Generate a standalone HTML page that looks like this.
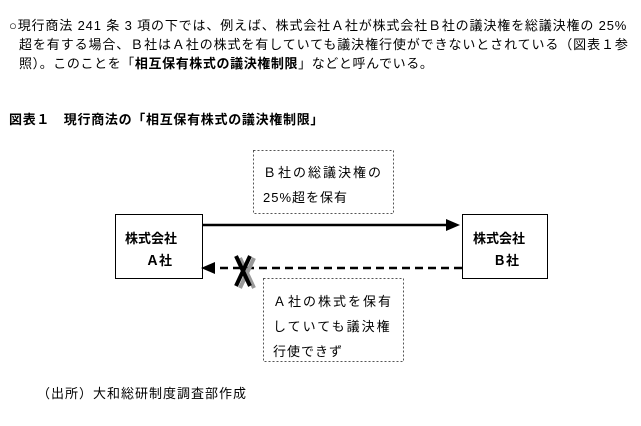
<!DOCTYPE html><html><head><meta charset="utf-8"><style>
body{margin:0;width:641px;height:426px;background:#fff;font-family:"Liberation Sans","Noto Sans CJK JP",sans-serif;color:#000;position:relative;overflow:hidden}
.a{position:absolute;white-space:nowrap;font-size:13px}
.b{font-weight:bold}
</style></head><body>
<div class="a" style="left:9px;top:15px;letter-spacing:0.85px">○現行商法 241 条 3 項の下では、例えば、株式会社Ａ社が株式会社Ｂ社の議決権を総議決権の 25%</div>
<div class="a" style="left:19px;top:34px;letter-spacing:0.9px">超を有する場合、Ｂ社はＡ社の株式を有していても議決権行使ができないとされている（図表１参</div>
<div class="a" style="left:19px;top:53px;letter-spacing:0.6px">照）。このことを「<b>相互保有株式の議決権制限</b>」などと呼んでいる。</div>
<div class="a b" style="left:9px;top:109px;font-size:13px;letter-spacing:0.7px">図表１　現行商法の「相互保有株式の議決権制限」</div>
<svg style="position:absolute;left:0;top:0" width="641" height="426">
<rect x="115.5" y="214.5" width="87" height="64" fill="#fff" stroke="#000"/>
<rect x="462.5" y="214.5" width="85" height="64" fill="#fff" stroke="#000"/>
<rect x="253.5" y="150.5" width="140" height="63" fill="none" stroke="#555" stroke-dasharray="2,2"/>
<rect x="263.5" y="278.5" width="140" height="83" fill="none" stroke="#555" stroke-dasharray="2,2"/>
<line x1="202" y1="225" x2="448" y2="225" stroke="#000" stroke-width="2.5"/>
<polygon points="460,225 446,219 446,231" fill="#000"/>
<line x1="462" y1="268" x2="214" y2="268" stroke="#000" stroke-width="2.5" stroke-dasharray="8,5"/>
<polygon points="201,268 215,262 215,274" fill="#000"/>
<path d="M238 257 L252 287 M252 257 L238 287" stroke="#999" stroke-width="4" transform="translate(2,1)"/>
<path d="M236 256 L250 286 M250 256 L236 286" stroke="#000" stroke-width="4"/>
</svg>
<div class="a b" style="left:125px;top:228px">株式会社</div>
<div class="a b" style="left:146px;top:250px">Ａ社</div>
<div class="a b" style="left:473px;top:228px">株式会社</div>
<div class="a b" style="left:493px;top:250px">Ｂ社</div>
<div class="a" style="left:263px;top:162px;letter-spacing:2px">Ｂ社の総議決権の</div>
<div class="a" style="left:263px;top:187px;letter-spacing:1px">25%超を保有</div>
<div class="a" style="left:273px;top:291px;letter-spacing:2px">Ａ社の株式を保有</div>
<div class="a" style="left:273px;top:316px;letter-spacing:2px">していても議決権</div>
<div class="a" style="left:273px;top:341px;letter-spacing:1px">行使できず</div>
<div class="a" style="left:37px;top:383px;font-size:13px;letter-spacing:1px">（出所）大和総研制度調査部作成</div>
</body></html>
